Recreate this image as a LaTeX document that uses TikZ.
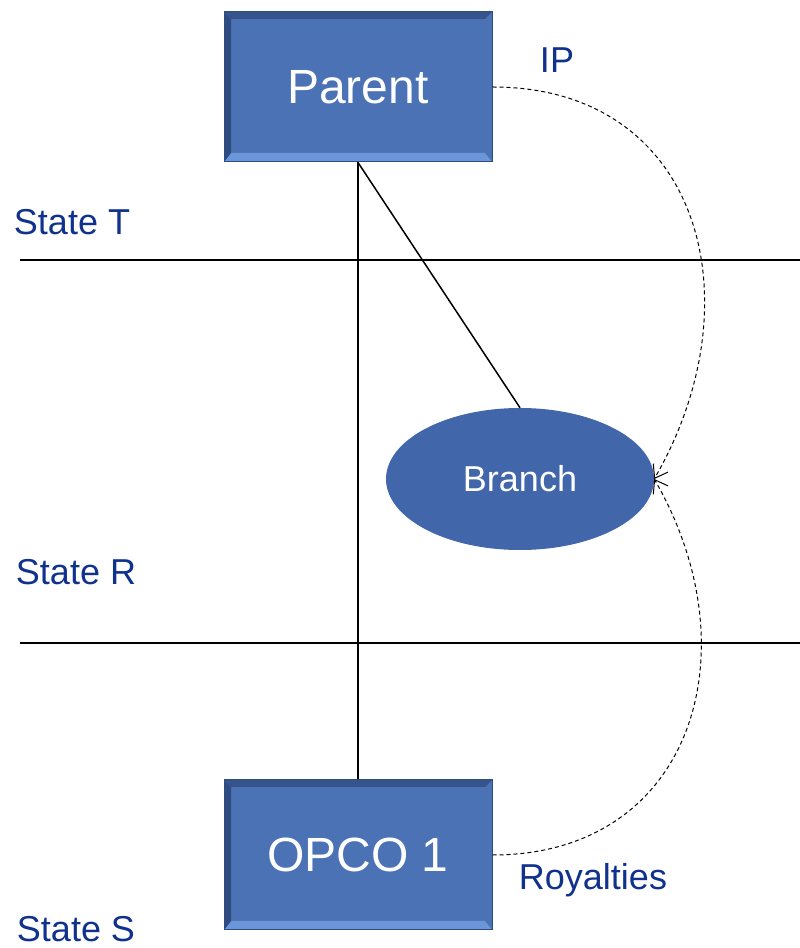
\documentclass[tikz,border=0pt]{standalone}
\usepackage{fontspec}
\setmainfont{Liberation Sans}
\usetikzlibrary{arrows.meta,shapes.geometric}

\definecolor{boxblue}{RGB}{74,114,181}
\definecolor{boxdark}{RGB}{47,76,128}
\definecolor{boxlight}{RGB}{108,150,218}
\definecolor{ellblue}{RGB}{65,102,169}
\definecolor{labelblue}{RGB}{16,50,140}

\tikzset{
  entity/.style={rectangle,fill=boxblue,draw=boxdark,line width=1pt,
    minimum width=268pt,minimum height=150pt,inner sep=0pt,text=white,
    font=\fontsize{48}{52}\selectfont,
    path picture={
      \fill[boxlight] (path picture bounding box.south west)--(path picture bounding box.south east)
        --([shift={(-7pt,9pt)}]path picture bounding box.south east)--([shift={(7pt,9pt)}]path picture bounding box.south west)--cycle;
      \fill[boxdark] (path picture bounding box.south west)--(path picture bounding box.north west)
        --([shift={(7pt,-7pt)}]path picture bounding box.north west)--([shift={(7pt,9pt)}]path picture bounding box.south west)--cycle;
      \fill[boxdark!80!boxblue] (path picture bounding box.north west)--(path picture bounding box.north east)
        --([shift={(-7pt,-7pt)}]path picture bounding box.north east)--([shift={(7pt,-7pt)}]path picture bounding box.north west)--cycle;
    }},
  state/.style={text=labelblue,font=\fontsize{36}{40}\selectfont,inner sep=0pt},
  flow/.style={dash pattern=on 4pt off 3pt,line width=1pt,-{Straight Barb[length=12pt,width=17pt]}}
}

\begin{document}
\begin{tikzpicture}[x=1pt,y=1pt]
  \useasboundingbox (0,0) rectangle (800,948);
  % borders between states
  \draw[line width=1.3pt] (20,688) -- (800,688);
  \draw[line width=1.3pt] (20,305) -- (800,305);
  \node[state] (st) at (72,726) {State T};
  \node[state] (sr) at (76,376) {State R};
  \node[state] (ss) at (76,19) {State S};
  % entities
  \node[entity] (parent) at (358,861) {Parent};
  \node[entity] (opco) at (358,93) {OPCO 1};
  \node[ellipse,fill=ellblue,minimum width=268pt,minimum height=142pt,inner sep=0pt,
    text=white,font=\fontsize{36}{40}\selectfont] (branch) at (520,469) {Branch};
  \draw[line width=1.5pt] (parent.south) -- (opco.north);
  \draw[line width=1.5pt] (parent.south) -- (branch.north);
  % flows
  \draw[flow] (parent.east) to[out=0,in=60,looseness=1.25] (branch.east);
  \draw[flow] (opco.east) to[out=0,in=-60,looseness=1.25] (branch.east);
  \node[state] (ip) at (557,888) {IP};
  \node[state] (roy) at (593,68) {Royalties};
\end{tikzpicture}
\end{document}
